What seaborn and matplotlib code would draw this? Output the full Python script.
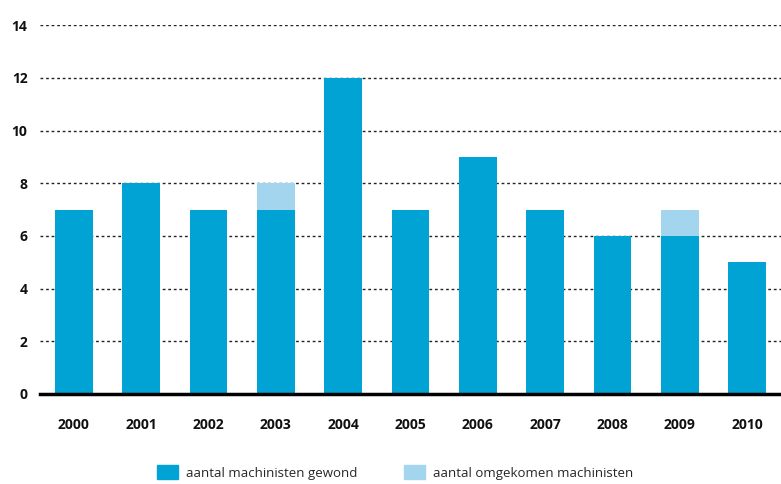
import matplotlib.pyplot as plt
import matplotlib.patches as mpatches
import seaborn as sns
import pandas as pd

# Data
years = ['2000', '2001', '2002', '2003', '2004', '2005', '2006', '2007', '2008', '2009', '2010']
gewond = [7, 8, 7, 7, 12, 7, 9, 7, 6, 6, 5]
omgekomen = [0, 0, 0, 1, 0, 0, 0, 0, 0, 1, 0]

dark_blue = '#00a3d4'
light_blue = '#a3d5ee'

df = pd.DataFrame({'jaar': years, 'gewond': gewond, 'omgekomen': omgekomen})
df['totaal'] = df['gewond'] + df['omgekomen']

sns.set_theme(style='white')
plt.rcParams['font.family'] = ['Open Sans', 'DejaVu Sans']

fig = plt.figure(figsize=(7.81, 4.84), dpi=100)
ax = fig.add_axes([0.0512, 0.186, 0.9488, 0.762])

# Stacked bars: total in light, injured on top in dark
sns.barplot(data=df, x='jaar', y='totaal', color=light_blue, width=0.56,
            saturation=1, linewidth=0, ax=ax, zorder=3)
sns.barplot(data=df, x='jaar', y='gewond', color=dark_blue, width=0.56,
            saturation=1, linewidth=0, ax=ax, zorder=3)

ax.set_xlim(-0.5, 10.5)
ax.set_ylim(0, 14)
ax.set_yticks(range(0, 15, 2))
ax.set_xlabel('')
ax.set_ylabel('')

# Dotted gridlines
ax.yaxis.grid(True, linestyle=(0, (2, 2)), color='#222222', linewidth=1)
for sp in ['top', 'right', 'left']:
    ax.spines[sp].set_visible(False)
ax.spines['bottom'].set_color('black')
ax.spines['bottom'].set_linewidth(2.5)
ax.spines['bottom'].set_zorder(4)

ax.tick_params(axis='y', length=0, pad=9, labelsize=10)
ax.tick_params(axis='x', length=0, pad=17, labelsize=10)
for lab in ax.get_xticklabels() + ax.get_yticklabels():
    lab.set_fontweight('bold')
    lab.set_color('#111111')

# Legend
handles = [mpatches.Patch(color=dark_blue, label='aantal machinisten gewond'),
           mpatches.Patch(color=light_blue, label='aantal omgekomen machinisten')]
fig.legend(handles=handles, loc='center left', bbox_to_anchor=(0.192, 0.024), ncol=2,
           frameon=False, fontsize=9.5, borderpad=0, handlelength=1.6, handleheight=1.3,
           handletextpad=0.6, columnspacing=3.55)

plt.savefig('out.png', dpi=100)
plt.close()
